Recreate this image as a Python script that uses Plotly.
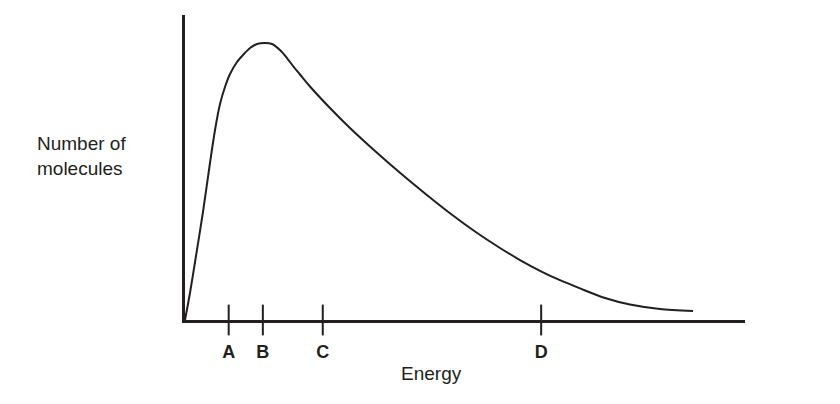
import plotly.graph_objects as go

# Maxwell-Boltzmann style distribution (arbitrary units)
energy = [0, 0.89, 1.79, 3.21, 4.46, 5.36, 6.25, 7.14, 8.04, 9.29, 10.36, 11.61,
          12.86, 14.29, 15.54, 16.96, 18.21, 19.29, 20.54, 22.32, 25.89, 29.46,
          33.93, 38.39, 42.86, 47.32, 51.79, 56.25, 59.82, 63.57, 66.96, 70.54,
          75.0, 79.46, 84.82, 90.71]
molecules = [0, 8.85, 19.02, 35.41, 51.48, 62.30, 70.82, 76.39, 80.66, 84.59, 86.89,
             89.18, 90.49, 90.82, 90.49, 88.52, 85.90, 83.28, 80.49, 76.56, 69.51,
             62.95, 55.41, 48.28, 41.48, 35.00, 29.02, 23.61, 19.67, 15.97, 13.05,
             10.36, 7.21, 5.08, 3.61, 2.95]

tick_vals = [7.8, 13.9, 24.6, 63.6]
tick_text = ["A", "B", "C", "D"]

INK = "#231f20"
FONT = "Arial, Liberation Sans, sans-serif"

fig = go.Figure()
fig.add_trace(go.Scatter(
    x=energy, y=molecules, mode="lines",
    line=dict(color=INK, width=2, shape="spline", smoothing=0.8),
    cliponaxis=False, hoverinfo="skip", showlegend=False))
fig.add_trace(go.Scatter(
    x=tick_vals, y=[0] * len(tick_vals), mode="markers",
    marker=dict(symbol="line-ns", size=22, line=dict(color=INK, width=2)),
    cliponaxis=False, hoverinfo="skip", showlegend=False))

fig.update_layout(
    width=840, height=404,
    margin=dict(l=185, r=95, t=15, b=84),
    paper_bgcolor="white", plot_bgcolor="white",
    font=dict(family=FONT, color=INK),
    xaxis=dict(range=[0, 100], showline=True, linecolor=INK, linewidth=2.5,
               showgrid=False, zeroline=False,
               tickvals=tick_vals, ticktext=tick_text,
               ticks="outside", ticklen=14, tickcolor="rgba(0,0,0,0)",
               tickfont=dict(family=FONT, size=18, color=INK, weight="bold")),
    yaxis=dict(range=[0, 100], showline=True, linecolor=INK, linewidth=2.5,
               showgrid=False, zeroline=False, showticklabels=False, ticks=""),
    annotations=[
        dict(text="Number of<br>molecules", xref="paper", yref="paper",
             x=-0.268, y=0.538, xanchor="left", yanchor="middle", align="left",
             showarrow=False, font=dict(family=FONT, size=19, color=INK)),
        dict(text="Energy", xref="paper", yref="paper",
             x=0.441, y=-0.177, xanchor="center", yanchor="middle",
             showarrow=False, font=dict(family=FONT, size=19, color=INK)),
    ],
)

fig.write_html("out.html")
